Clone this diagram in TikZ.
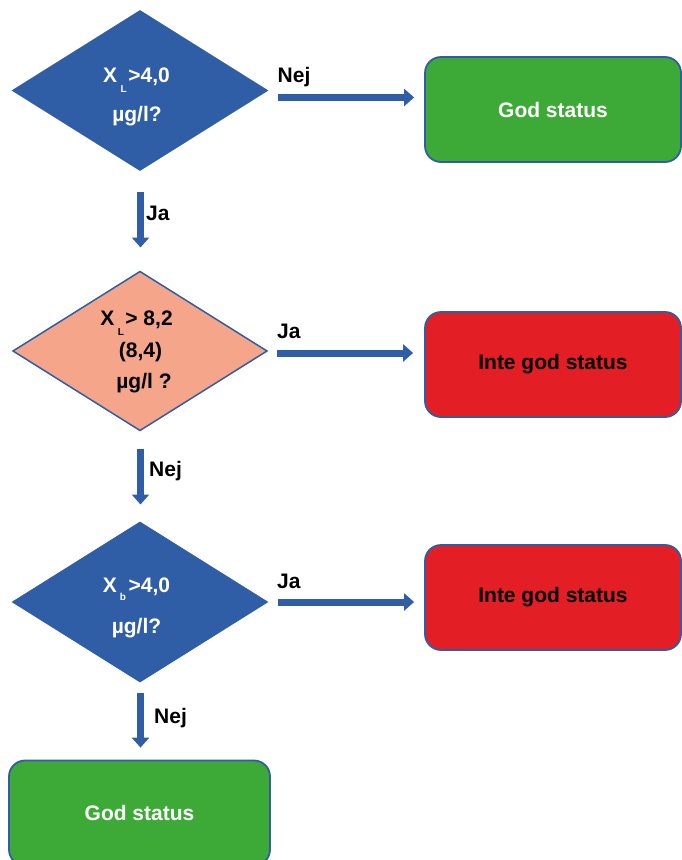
\documentclass[tikz,border=0pt]{standalone}
\usepackage{fontspec}
\setmainfont{Liberation Sans}
\usetikzlibrary{shapes.geometric,arrows.meta}
\definecolor{dblue}{RGB}{47,93,166}
\definecolor{salmon}{RGB}{244,165,138}
\definecolor{sgreen}{RGB}{61,170,55}
\definecolor{sred}{RGB}{227,30,36}
\newcommand{\subL}{\hspace{3.5pt}\raisebox{-10pt}{\fontsize{10}{10}\selectfont L}\hspace{1.5pt}}
\newcommand{\subB}{\hspace{3pt}\raisebox{-8pt}{\fontsize{10}{10}\selectfont b}\hspace{2.5pt}}
\begin{document}
\begin{tikzpicture}[x=1pt,y=-1pt,
  txt/.style={font=\bfseries\fontsize{21}{25}\selectfont, inner sep=0pt},
  dia/.style={diamond, draw=dblue, line width=1.5pt, minimum width=254pt, minimum height=159pt, inner sep=0pt, outer sep=0pt},
  sbox/.style={rectangle, rounded corners=16pt, draw=dblue, line width=1.8pt, minimum width=256pt, minimum height=105pt, inner sep=0pt, font=\bfseries\fontsize{21}{25}\selectfont},
  arr/.style={draw=dblue, line width=7pt, -{Triangle[length=10pt,width=17pt]}}
]
\useasboundingbox (0,0) rectangle (681,860);
% decisions
\node[dia, fill=dblue] (d1) at (140,90.5) {};
\node[dia, fill=salmon] (d2) at (140,351) {};
\node[dia, fill=dblue] (d3) at (140,602) {};
% diamond texts
\node[txt, text=white, anchor=base] (t11) at (136.5,82) {X\subL>4,0};
\node[txt, text=white, anchor=base] (t12) at (137,121) {µg/l?};
\node[txt, text=black, anchor=base] (t21) at (136.5,325) {X\subL> 8,2};
\node[txt, text=black, anchor=base] (t22) at (140.5,357) {(8,4)};
\node[txt, text=black, anchor=base] (t23) at (144,388) {µg/l ?};
\node[txt, text=white, anchor=base] (t31) at (136.5,592) {X\subB>4,0};
\node[txt, text=white, anchor=base] (t32) at (136.5,633) {µg/l?};
% outcome boxes
\node[sbox, fill=sgreen, text=white] (b1) at (553,109.5) {God status};
\node[sbox, fill=sred, text=black] (b2) at (553,364.5) {Inte god status};
\node[sbox, fill=sred, text=black] (b3) at (553,597.5) {Inte god status};
\node[sbox, fill=sgreen, text=white, minimum width=261pt] (b4) at (139.5,813) {God status};
% connectors
\draw[arr, shorten <=11pt, shorten >=10pt] ([yshift=-7pt]d1.east) -- ([yshift=-7pt]d1.east -| b1.west);
\draw[arr, shorten <=10pt, shorten >=11pt] ([yshift=-2pt]d2.east) -- ([yshift=-2pt]d2.east -| b2.west);
\draw[arr, shorten <=11pt, shorten >=10pt] (d3.east) -- (d3.east -| b3.west);
\draw[arr, shorten <=22pt, shorten >=24pt] ([xshift=0.5pt]d1.south) -- ([xshift=0.5pt]d2.north);
\draw[arr, shorten <=18pt, shorten >=18pt] ([xshift=0.5pt]d2.south) -- ([xshift=0.5pt]d3.north);
\draw[arr, shorten <=11pt, shorten >=12pt] ([xshift=0.5pt]d3.south) -- ([xshift=0.5pt]d3.south |- b4.north);
% connector labels
\node[txt, anchor=base west] (l1) at (277.5,82) {Nej};
\node[txt, anchor=base west] (l2) at (277,338) {Ja};
\node[txt, anchor=base west] (l3) at (277,588) {Ja};
\node[txt, anchor=base west] (l4) at (146,220) {Ja};
\node[txt, anchor=base west] (l5) at (149,476) {Nej};
\node[txt, anchor=base west] (l6) at (154,723) {Nej};
\end{tikzpicture}
\end{document}
